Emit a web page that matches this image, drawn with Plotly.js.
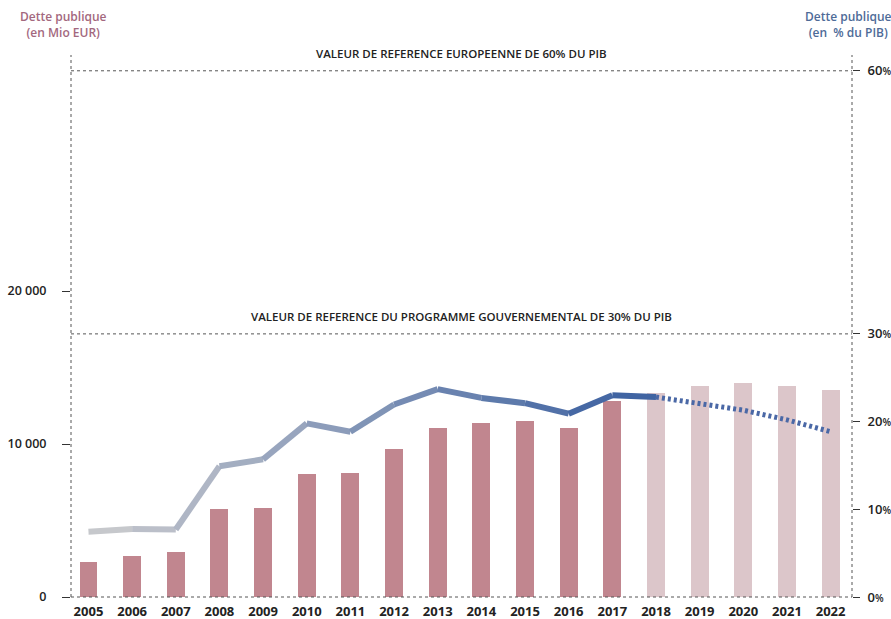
<!DOCTYPE html>
<html><head><meta charset="utf-8">
<script src="https://cdn.plot.ly/plotly-3.0.1.min.js"></script>
<style>html,body{margin:0;padding:0;background:#fff}</style>
</head><body>
<div id="chart" style="width:891px;height:619px"></div>
<script>
// Data
var years = [2005,2006,2007,2008,2009,2010,2011,2012,2013,2014,2015,2016,2017,2018,2019,2020,2021,2022];
var debtMioEUR = [2270,2700,2920,5730,5840,8020,8100,9650,11050,11390,11480,11060,12810,13310,13790,14010,13790,13550];
var isProjection = [0,0,0,0,0,0,0,0,0,0,0,0,0,1,1,1,1,1];
var debtPctGDP = [7.45,7.75,7.7,14.9,15.7,19.8,18.85,21.95,23.7,22.7,22.1,20.9,23.0,22.8];
var projYears = [2018,2019,2020,2021,2022];
var projPct = [22.8,22.0,21.3,20.2,18.85];
var leftTickVals = [0,10000,20000];
var leftTickText = ['0','10 000','20 000'];
var rightTickVals = [0,10,20,30,60];
var rightTickText = ['0%','10%','20%','30%','60%'];
var refLevels = [60,30];
var refLabels = ['VALEUR DE REFERENCE EUROPEENNE DE 60% DU PIB','VALEUR DE REFERENCE DU PROGRAMME GOUVERNEMENTAL DE 30% DU PIB'];

var FONT = 'Open Sans, Lato, sans-serif';
var barColors = isProjection.map(function(p){return p ? '#dcc6ca' : '#c1868f';});

var traces = [{
  type:'bar', x:years, y:debtMioEUR, width:0.41,
  marker:{color:barColors, line:{width:0}}, yaxis:'y', hoverinfo:'skip'
}];

// gradient line: gray -> blue, segment by segment
function lerp(a,b,t){return Math.round(a+(b-a)*t);}
var c0=[204,204,206], c1=[64,100,162];
var nSeg = debtPctGDP.length-1;
for (var i=0;i<nSeg;i++){
  var t = Math.min(1, (i+0.5)/(nSeg-1));
  var col = 'rgb('+lerp(c0[0],c1[0],t)+','+lerp(c0[1],c1[1],t)+','+lerp(c0[2],c1[2],t)+')';
  traces.push({type:'scatter', mode:'lines', x:[years[i],years[i+1]], y:[debtPctGDP[i],debtPctGDP[i+1]],
    yaxis:'y2', line:{color:col,width:6}, hoverinfo:'skip'});
}
traces.push({type:'scatter', mode:'lines', x:projYears, y:projPct, yaxis:'y2',
  line:{color:'#4a68a6', width:5, dash:'3px,3px'}, hoverinfo:'skip'});

var shapes = [
  {type:'line', xref:'paper', yref:'paper', x0:0, x1:0, y0:0, y1:1, line:{color:'#555',width:1,dash:'dot'}},
  {type:'line', xref:'paper', yref:'paper', x0:1, x1:1, y0:0, y1:1, line:{color:'#555',width:1,dash:'dot'}},
  {type:'line', xref:'paper', yref:'paper', x0:0, x1:1, y0:0, y1:0, line:{color:'#555',width:1,dash:'dot'}}
];
var annotations = [
  {xref:'paper', yref:'paper', x:-0.009, y:1.022, xanchor:'center', yanchor:'bottom', showarrow:false, align:'center',
   text:'Dette publique<br>(en Mio EUR)', font:{family:FONT,size:12,color:'#a3687e',weight:600}},
  {xref:'paper', yref:'paper', x:0.9955, y:1.022, xanchor:'center', yanchor:'bottom', showarrow:false, align:'center',
   text:'Dette publique<br>(en  % du PIB)', font:{family:FONT,size:12,color:'#4e6b98',weight:600}}
];
refLevels.forEach(function(v,k){
  shapes.push({type:'line', xref:'paper', yref:'y2', x0:0, x1:1, y0:v, y1:v, line:{color:'#555',width:1,dash:'dot'}});
  annotations.push({xref:'paper', yref:'y2', x:0.5, y:v, yanchor:'bottom', xanchor:'center', yshift:8, showarrow:false,
    text:refLabels[k], font:{family:FONT,size:11.5,color:'#222',weight:600}});
});

var layout = {
  width:891, height:619, margin:{l:71,r:39,t:55,b:22},
  paper_bgcolor:'#fff', plot_bgcolor:'#fff', showlegend:false, bargap:0,
  font:{family:FONT, color:'#222'},
  xaxis:{range:[2004.6,2022.49], tickvals:years, ticktext:years.map(String), showgrid:false, zeroline:false,
    showline:false, ticks:'', tickfont:{family:FONT,size:13,color:'#222',weight:700}, ticklabelstandoff:5},
  yaxis:{range:[0,35425], tickvals:leftTickVals, ticktext:leftTickText, showgrid:false, zeroline:false, showline:false,
    ticks:'outside', ticklen:8, tickcolor:'#333', tickwidth:1, ticklabelstandoff:13,
    tickfont:{family:FONT,size:12.5,color:'#222',weight:600}},
  yaxis2:{range:[0,61.8], overlaying:'y', side:'right', tickvals:rightTickVals,
    ticktext:rightTickText.map(function(s){return s.replace('%','<span style="font-size:10px">%</span>');}),
    showgrid:false, zeroline:false, showline:false, ticks:'outside', ticklen:7, tickcolor:'#333', tickwidth:1,
    ticklabelstandoff:5, tickfont:{family:FONT,size:13,color:'#222',weight:600}},
  shapes:shapes, annotations:annotations
};
Plotly.newPlot('chart', traces, layout, {displayModeBar:false, staticPlot:true});
</script>
</body></html>
